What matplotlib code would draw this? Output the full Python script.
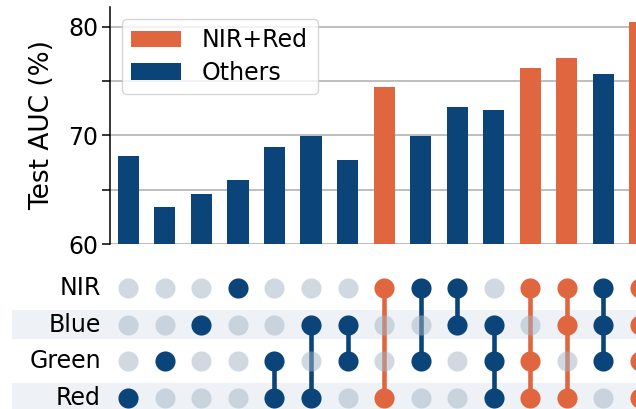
import matplotlib
matplotlib.use("Agg")
import matplotlib.pyplot as plt
from matplotlib.patches import Patch, Rectangle
from matplotlib.transforms import blended_transform_factory

plt.rcParams['font.family'] = ['DejaVu Sans']

# ---- data ----
channels = ["NIR", "Blue", "Green", "Red"]
combos = [
    ["Red"],
    ["Green"],
    ["Blue"],
    ["NIR"],
    ["Green", "Red"],
    ["Blue", "Red"],
    ["Blue", "Green"],
    ["NIR", "Red"],
    ["NIR", "Green"],
    ["NIR", "Blue"],
    ["Blue", "Green", "Red"],
    ["NIR", "Green", "Red"],
    ["NIR", "Blue", "Red"],
    ["NIR", "Blue", "Green"],
    ["NIR", "Blue", "Green", "Red"],
]
auc = [68.1, 63.4, 64.6, 65.9, 68.9, 69.9, 67.7, 74.4, 69.9, 72.6, 72.3, 76.2, 77.1, 75.6, 80.4]
yticks = [60, 65, 70, 75, 80]
ytick_labels = ["60", "", "70", "", "80"]

ORANGE = "#e0663f"
NAVY = "#0a4479"
STRIPE = "#eef2f6"
INACTIVE = "#a3b5c7"

FS = 17

W, H = 636, 409
fig = plt.figure(figsize=(W / 100, H / 100), dpi=100)

n = len(combos)
col_px = 36.55
left_px = 110
ax_w = n * col_px / W

# ---- bar axes ----
ax = fig.add_axes([left_px / W, 165 / H, ax_w, 402 / H - 165 / H])
colors = [ORANGE if ("NIR" in c and "Red" in c) else NAVY for c in combos]
xs = list(range(n))
ax.bar(xs, [v - 60 for v in auc], bottom=60, width=0.58, color=colors, zorder=3)
ax.set_xlim(-0.5, n - 0.5)
ax.set_ylim(60, 81.8)
ax.set_yticks(yticks)
ax.set_yticklabels(ytick_labels, fontsize=FS)
ax.tick_params(axis='y', length=5.5, width=1.1, pad=3)
ax.set_xticks([])
ax.grid(axis='y', color='#b3b3b3', linewidth=1.2)
ax.set_axisbelow(True)
for s in ["top", "right", "bottom"]:
    ax.spines[s].set_visible(False)
ax.spines["left"].set_linewidth(1.1)
ax.set_ylabel("Test AUC (%)", fontsize=19, labelpad=9)
handles = [Patch(facecolor=ORANGE, label="NIR+Red"), Patch(facecolor=NAVY, label="Others")]
ax.legend(handles=handles, loc="upper left", fontsize=FS, handlelength=2.1,
          handleheight=0.7, borderpad=0.4, labelspacing=0.35, handletextpad=0.9,
          bbox_to_anchor=(0.0, 1.0), framealpha=0.8, edgecolor='#cccccc')

# ---- matrix axes ----
mx = fig.add_axes([left_px / W, -7 / H, ax_w, 146 / H])
mx.set_xlim(-0.5, n - 0.5)
mx.set_ylim(len(channels) - 0.5, -0.5)
mx.axis("off")

trans = blended_transform_factory(fig.transFigure, mx.transData)
for r, ch in enumerate(channels):
    if r % 2 == 1:
        mx.add_patch(Rectangle((12 / W, r - 0.4), 1.2, 0.8, transform=trans,
                               facecolor=STRIPE, edgecolor='none', zorder=0, clip_on=False))
    fig.text(101 / W, r, ch, fontsize=FS, ha="right", va="center", transform=trans)

for i, c in enumerate(combos):
    col = colors[i]
    rows = [channels.index(ch) for ch in c]
    if len(rows) > 1:
        mx.plot([i, i], [min(rows), max(rows)], color=col, linewidth=3.3,
                zorder=2, solid_capstyle='butt')
    for r in range(len(channels)):
        if r in rows:
            mx.scatter(i, r, s=210, color=col, zorder=3, linewidths=0)
        else:
            mx.scatter(i, r, s=210, color=INACTIVE, alpha=0.5, zorder=4, linewidths=0)

fig.savefig("out.png", dpi=100)
